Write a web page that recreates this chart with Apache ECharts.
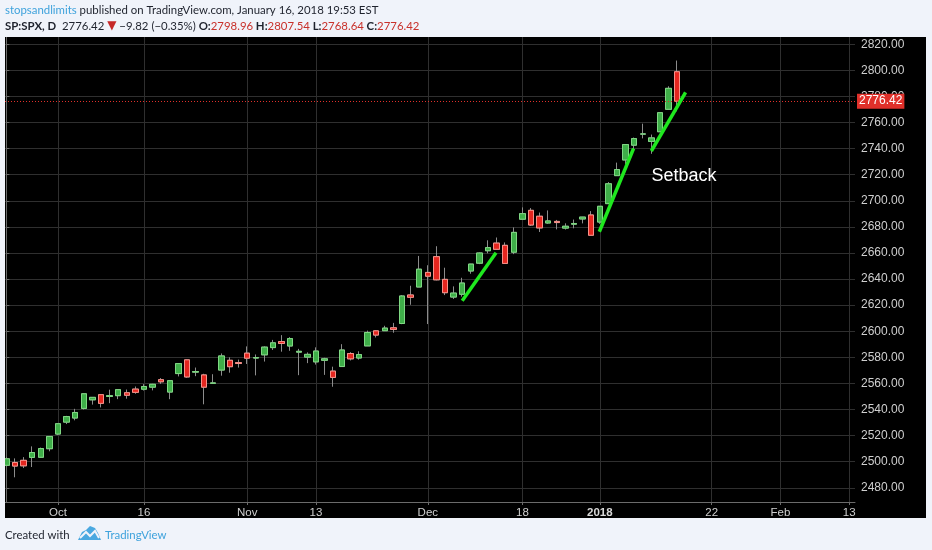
<!DOCTYPE html>
<html>
<head>
<meta charset="utf-8">
<script src="https://cdn.jsdelivr.net/npm/echarts@6/dist/echarts.min.js"></script>
<style>html,body{margin:0;padding:0;background:#f0f3fa;}#c{width:932px;height:550px;}</style>
</head>
<body>
<div id="c"></div>
<script>
// ---- data (SP:SPX daily) ----
const dates = [
 '2017-09-22','2017-09-25','2017-09-26','2017-09-27','2017-09-28','2017-09-29',
 '2017-10-02','2017-10-03','2017-10-04','2017-10-05','2017-10-06','2017-10-09','2017-10-10','2017-10-11','2017-10-12','2017-10-13',
 '2017-10-16','2017-10-17','2017-10-18','2017-10-19','2017-10-20','2017-10-23','2017-10-24','2017-10-25','2017-10-26','2017-10-27','2017-10-30','2017-10-31',
 '2017-11-01','2017-11-02','2017-11-03','2017-11-06','2017-11-07','2017-11-08','2017-11-09','2017-11-10','2017-11-13','2017-11-14','2017-11-15','2017-11-16','2017-11-17',
 '2017-11-20','2017-11-21','2017-11-22','2017-11-24','2017-11-27','2017-11-28','2017-11-29','2017-11-30',
 '2017-12-01','2017-12-04','2017-12-05','2017-12-06','2017-12-07','2017-12-08','2017-12-11','2017-12-12','2017-12-13','2017-12-14','2017-12-15',
 '2017-12-18','2017-12-19','2017-12-20','2017-12-21','2017-12-22','2017-12-26','2017-12-27','2017-12-28','2017-12-29',
 '2018-01-02','2018-01-03','2018-01-04','2018-01-05','2018-01-08','2018-01-09','2018-01-10','2018-01-11','2018-01-12','2018-01-16'
];
const futureDates = ['2018-01-17','2018-01-18','2018-01-19','2018-01-22','2018-01-23','2018-01-24','2018-01-25','2018-01-26','2018-01-29','2018-01-30','2018-01-31',
 '2018-02-01','2018-02-02','2018-02-05','2018-02-06','2018-02-07','2018-02-08','2018-02-09','2018-02-12','2018-02-13'];
const open = [2497.26,2499.39,2501.04,2503.30,2503.41,2509.96,
 2521.20,2530.34,2533.48,2540.86,2547.44,2551.39,2549.99,2550.62,2552.88,2555.66,
 2555.57,2557.17,2562.87,2553.39,2567.56,2578.08,2568.66,2566.52,2560.08,2570.26,2577.75,2575.99,
 2583.21,2579.46,2581.93,2587.47,2592.11,2588.71,2584.00,2580.18,2576.53,2577.75,2569.45,2572.95,2582.94,
 2579.49,2588.79,2600.31,2600.42,2602.66,2605.94,2627.82,2633.93,
 2645.10,2657.19,2639.78,2626.24,2628.38,2646.21,2652.19,2661.73,2667.59,2665.87,2660.63,
 2685.92,2692.71,2688.18,2683.02,2684.22,2679.09,2682.10,2686.10,2689.15,
 2683.73,2697.85,2719.31,2731.33,2742.67,2751.15,2745.55,2752.97,2770.18,2798.96];
const high = [2503.47,2502.54,2503.51,2511.75,2510.81,2519.44,
 2529.23,2535.13,2540.53,2552.51,2549.41,2551.82,2555.23,2555.24,2555.33,2557.65,
 2559.47,2559.71,2564.11,2562.36,2575.44,2578.29,2572.18,2567.40,2567.07,2582.98,2580.03,2578.29,
 2588.40,2582.20,2588.42,2593.38,2597.02,2595.47,2586.50,2583.81,2587.66,2579.66,2572.84,2590.09,2583.96,
 2584.64,2600.48,2600.94,2604.21,2606.41,2627.69,2634.89,2657.74,
 2650.62,2665.19,2648.72,2634.41,2640.99,2651.65,2660.33,2669.72,2671.88,2668.09,2679.63,
 2694.97,2694.44,2691.01,2692.64,2685.35,2682.74,2685.64,2687.66,2692.12,
 2695.89,2714.37,2729.29,2743.45,2748.51,2759.14,2750.80,2767.56,2787.85,2807.54];
const low = [2496.54,2488.03,2495.12,2495.91,2502.93,2507.99,
 2520.40,2528.85,2531.72,2540.02,2543.79,2541.60,2544.86,2547.95,2548.31,2552.09,
 2554.55,2554.69,2559.67,2547.92,2565.38,2564.33,2565.58,2544.00,2559.80,2565.94,2568.25,2572.15,
 2574.92,2566.17,2576.77,2585.66,2584.35,2585.02,2566.33,2575.57,2574.48,2566.56,2557.45,2572.95,2577.62,
 2578.24,2588.79,2595.23,2600.42,2598.87,2605.44,2620.32,2633.93,
 2605.52,2639.03,2627.73,2624.75,2626.53,2644.10,2651.47,2659.78,2662.85,2652.01,2659.14,
 2685.92,2680.74,2676.11,2682.40,2678.13,2677.96,2678.91,2682.69,2673.61,
 2682.36,2697.77,2719.07,2727.92,2737.60,2747.86,2736.06,2752.78,2769.64,2768.64];
const close = [2502.22,2496.66,2496.84,2507.04,2510.06,2519.36,
 2529.12,2534.58,2537.74,2552.07,2549.33,2544.73,2550.64,2555.24,2550.93,2553.17,
 2557.64,2559.36,2561.26,2562.10,2575.21,2564.98,2569.13,2557.15,2560.40,2581.07,2572.83,2575.26,
 2579.36,2579.85,2587.84,2591.13,2590.64,2594.38,2584.62,2582.30,2584.84,2578.87,2564.62,2585.64,2578.85,
 2582.14,2599.03,2597.08,2602.42,2601.42,2627.04,2626.07,2647.58,
 2642.22,2639.44,2629.57,2629.27,2636.98,2651.50,2659.99,2664.11,2662.85,2652.01,2675.81,
 2690.16,2681.47,2679.25,2684.57,2683.34,2680.50,2682.62,2687.54,2673.61,
 2695.81,2713.06,2723.99,2743.15,2747.71,2751.29,2748.23,2767.56,2786.24,2776.42];
const tickDates  = ['2017-10-02','2017-10-16','2017-11-01','2017-11-13','2017-12-01','2017-12-18','2018-01-02','2018-01-22','2018-02-01','2018-02-13'];
const tickLabels = ['Oct','16','Nov','13','Dec','18','2018','22','Feb','13'];
const priceTicks = [2480,2500,2520,2540,2560,2580,2600,2620,2640,2660,2680,2700,2720,2740,2760,2780,2800,2820];
// trend lines drawn on the chart: [date index, price]
const trend1 = [[53.0,2623.4],[56.93,2660.2]];
const trend2 = [[68.94,2676.3],[72.92,2740.1]];
const trend3 = [[74.99,2738.2],[78.97,2783.2]];

// ---- build ----
const axisDates = dates.concat(futureDates);
const tickIdx = tickDates.map(d => axisDates.indexOf(d));
const candles = dates.map((d,i) => [i, open[i], close[i], low[i], high[i]]);
const bodies = dates.map((d,i) => [i, open[i], close[i], Math.min(open[i],close[i]), Math.max(open[i],close[i])]);
const last = close.length - 1;
const chg = close[last] - close[last-1];
const chgPct = chg / close[last-1] * 100;
const f2 = v => v.toFixed(2);
const minus = v => (v < 0 ? '\u2212' : '+') + Math.abs(v).toFixed(2);

const chart = echarts.init(document.getElementById('c'), null, {renderer:'canvas'});
const axisFont = 'Liberation Sans, Arial, sans-serif';
const hdrFont = 'Lato, "Open Sans", sans-serif';
const hs = 11.4;
const trendStyle = {color:'#1fe81f', width:3.5};
function trendSeries(d){ return {type:'line', data:d, symbol:'none', lineStyle:trendStyle, silent:true, z:5}; }

chart.setOption({
  animation:false,
  backgroundColor:'#000',
  grid:{left:5, right:77, top:37, bottom:48},
  xAxis:{
    type:'value', min:-0.163, max:98.67,
    axisLine:{show:true, lineStyle:{color:'#6b6b6b'}},
    axisTick:{show:true, length:3, customValues:tickIdx, lineStyle:{color:'#6b6b6b'}},
    splitLine:{show:true, lineStyle:{color:'#2f2f2f'}},
    axisLabel:{customValues:tickIdx, margin:5, color:'#cfcfcf', fontSize:11.5, fontFamily:axisFont,
      formatter:v => { const k = tickIdx.indexOf(Math.round(v)); const t = k>=0 ? tickLabels[k] : ''; return t==='2018' ? '{b|'+t+'}' : t; },
      rich:{b:{fontWeight:'bold', color:'#d8d8d8', fontSize:11.5, fontFamily:axisFont}}}
  },
  yAxis:{
    type:'value', position:'right', min:2469.1, max:2825.6, scale:true,
    axisLine:{show:true, lineStyle:{color:'#6b6b6b'}},
    axisTick:{show:true, length:3, customValues:priceTicks, lineStyle:{color:'#6b6b6b'}},
    splitLine:{show:true, lineStyle:{color:'#2f2f2f'}},
    axisLabel:{customValues:priceTicks, margin:6, color:'#cfcfcf', fontSize:12, fontFamily:axisFont, formatter:v => f2(v)}
  },
  series:[
    {type:'candlestick', data:candles, barWidth:6, silent:true,
     itemStyle:{color:'#3fae49', color0:'#e5261f', borderColor:'#8c8c8c', borderColor0:'#8c8c8c', borderWidth:1}},
    {type:'candlestick', data:bodies, barWidth:6, silent:true,
     itemStyle:{color:'#3fae49', color0:'#e5261f', borderColor:'#7fd883', borderColor0:'#f7928a', borderWidth:1},
     markLine:{silent:true, symbol:['none','none'],
       lineStyle:{color:'#e0302a', type:[1,2], width:1},
       label:{position:'end', distance:2, formatter:() => f2(close[last]), color:'#fff', backgroundColor:'#e0302a',
              padding:[2,2,1,2], fontSize:12, fontFamily:axisFont},
       data:[{yAxis:close[last]}]}},
    trendSeries(trend1), trendSeries(trend2), trendSeries(trend3)
  ],
  graphic:[
    {type:'rect', shape:{x:0,y:0,width:932,height:37}, style:{fill:'#f0f3fa'}, z:10},
    {type:'rect', shape:{x:0,y:518,width:932,height:32}, style:{fill:'#f0f3fa'}, z:10},
    {type:'rect', shape:{x:0,y:0,width:5,height:550}, style:{fill:'#f0f3fa'}, z:10},
    {type:'rect', shape:{x:926,y:0,width:6,height:550}, style:{fill:'#f0f3fa'}, z:10},
    {type:'text', x:5, y:10, z:11, style:{
      text:'{u|stopsandlimits}{d| published on TradingView.com, January 16, 2018 19:53 EST}',
      verticalAlign:'middle',
      rich:{u:{fill:'#3ea2dc', fontSize:hs, fontFamily:hdrFont}, d:{fill:'#1e222d', fontSize:hs, fontFamily:hdrFont}}}},
    {type:'text', x:5, y:26, z:11, style:{
      text:'{b|SP:SPX, D}{n|  '+f2(close[last])+' }{r|\u25BC}{n| '+minus(chg)+' ('+minus(chgPct)+'%) }{b|O:}{v|'+f2(open[last])+'}{b| H:}{v|'+f2(high[last])+'}{b| L:}{v|'+f2(low[last])+'}{b| C:}{v|'+f2(close[last])+'}',
      verticalAlign:'middle',
      rich:{b:{fill:'#1e222d', fontWeight:'bold', fontSize:hs, fontFamily:hdrFont},
            n:{fill:'#1e222d', fontSize:hs, fontFamily:hdrFont},
            r:{fill:'#c62828', fontSize:12, fontFamily:'DejaVu Sans, sans-serif'},
            v:{fill:'#c8302a', fontSize:hs, fontFamily:hdrFont}}}},
    {type:'text', x:684, y:176, z:11, style:{text:'Setback', fill:'#ffffff', fontSize:18, fontFamily:'Liberation Sans, Arial, sans-serif', align:'center', verticalAlign:'middle'}},
    {type:'text', x:5, y:535, z:11, style:{text:'Created with', fill:'#1e222d', fontSize:hs, fontFamily:hdrFont, verticalAlign:'middle'}},
    {type:'polygon', z:11, shape:{points:[[78,540],[82,532],[86,530],[90,526],[95,528],[98,533],[101,540]]}, style:{fill:'#4aa8e0'}},
    {type:'polyline', z:12, shape:{points:[[80,538],[86,532],[90,536],[95,531],[99,538]]}, style:{stroke:'#f0f3fa', lineWidth:2, fill:null}},
    {type:'text', x:105, y:535, z:11, style:{text:'TradingView', fill:'#3ea2dc', fontSize:hs, fontFamily:hdrFont, verticalAlign:'middle'}}
  ]
});
</script>
</body>
</html>
